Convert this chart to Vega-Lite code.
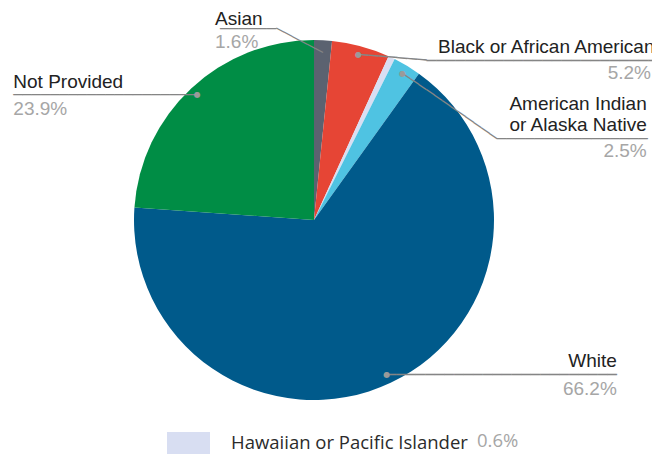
{
  "$schema": "https://vega.github.io/schema/vega-lite/v6.json",
  "width": 628,
  "height": 440,
  "autosize": {"type": "none"},
  "padding": {"left": 0, "top": 0, "right": 24, "bottom": 15},
  "background": "white",
  "config": {"view": {"stroke": null}},
  "data": {
    "values": [
      {"category": "Asian", "share": 0.016, "order": 1},
      {"category": "Black or African American", "share": 0.052, "order": 2},
      {"category": "Hawaiian or Pacific Islander", "share": 0.006, "order": 3},
      {"category": "American Indian\nor Alaska Native", "share": 0.025, "order": 4},
      {"category": "White", "share": 0.662, "order": 5},
      {"category": "Not Provided", "share": 0.239, "order": 6}
    ]
  },
  "encoding": {
    "theta": {"field": "share", "type": "quantitative", "stack": true},
    "order": {"field": "order", "type": "quantitative"},
    "detail": {"field": "category", "type": "nominal"}
  },
  "layer": [
    {
      "mark": {"type": "arc", "outerRadius": 180},
      "encoding": {
        "color": {
          "field": "category",
          "type": "nominal",
          "scale": {
            "domain": ["Asian", "Black or African American", "Hawaiian or Pacific Islander", "American Indian\nor Alaska Native", "White", "Not Provided"],
            "range": ["#5b6270", "#e64535", "#d8def2", "#4fc3e2", "#005a8b", "#008d45"]
          },
          "legend": {
            "values": ["Hawaiian or Pacific Islander"],
            "orient": "none",
            "legendX": 167,
            "legendY": 421.5,
            "title": "0.6%",
            "titleOrient": "right",
            "titleAnchor": "middle",
            "titleFont": "Open Sans",
            "titleFontSize": 18.5,
            "titleFontWeight": "normal",
            "titleColor": "#a6a6a6",
            "titlePadding": 9,
            "titleBaseline": "line-top",
            "titleLineHeight": 8,
            "symbolType": "M-1,-0.512H1V0.512H-1Z",
            "symbolSize": 1849,
            "symbolStrokeWidth": 0,
            "symbolOpacity": 1,
            "labelFont": "Open Sans",
            "labelFontSize": 18.5,
            "labelFontWeight": 500,
            "labelColor": "#2b2b2b",
            "labelOffset": 21,
            "labelLimit": 400
          }
        }
      }
    },
    {
      "mark": {"type": "text", "radius": 171, "align": "right", "baseline": "middle", "font": "DejaVu Sans Mono", "fontSize": 15.3, "color": "#858585"},
      "encoding": {"text": {"condition": {"test": "datum.category === 'Not Provided'", "value": "────────────────────"}, "value": ""}}
    },
    {
      "mark": {"type": "text", "radius": 171, "align": "left", "baseline": "alphabetic", "dx": -184, "dy": -6.7, "font": "Liberation Sans", "fontSize": 19, "color": "#222222"},
      "encoding": {"text": {"condition": {"test": "datum.category === 'Not Provided'", "field": "category", "type": "nominal"}, "value": ""}}
    },
    {
      "mark": {"type": "text", "radius": 171, "align": "left", "baseline": "alphabetic", "dx": -184, "dy": 20, "font": "Liberation Sans", "fontSize": 19, "color": "#a6a6a6"},
      "encoding": {"text": {"condition": {"test": "datum.category === 'Not Provided'", "field": "share", "type": "quantitative", "format": ".1%"}, "value": ""}}
    },
    {
      "mark": {"type": "text", "radius": 171, "align": "left", "baseline": "middle", "font": "DejaVu Sans Mono", "fontSize": 15.93, "color": "#858585"},
      "encoding": {"text": {"condition": {"test": "datum.category === 'White'", "value": "────────────────────────"}, "value": ""}}
    },
    {
      "mark": {"type": "text", "radius": 171, "align": "right", "baseline": "alphabetic", "dx": 230, "dy": -8, "font": "Liberation Sans", "fontSize": 19, "color": "#222222"},
      "encoding": {"text": {"condition": {"test": "datum.category === 'White'", "field": "category", "type": "nominal"}, "value": ""}}
    },
    {
      "mark": {"type": "text", "radius": 171, "align": "right", "baseline": "alphabetic", "dx": 230, "dy": 20.3, "font": "Liberation Sans", "fontSize": 19, "color": "#a6a6a6"},
      "encoding": {"text": {"condition": {"test": "datum.category === 'White'", "field": "share", "type": "quantitative", "format": ".1%"}, "value": ""}}
    },
    {
      "mark": {"type": "text", "radius": 171, "align": "left", "baseline": "middle", "angle": 4.8, "font": "DejaVu Sans Mono", "fontSize": 16.2, "color": "#858585"},
      "encoding": {"text": {"condition": {"test": "datum.category === 'Black or African American'", "value": "───────"}, "value": ""}}
    },
    {
      "mark": {"type": "text", "radius": 171, "align": "left", "baseline": "middle", "dx": 68, "dy": 5.7, "font": "DejaVu Sans Mono", "fontSize": 16, "color": "#858585"},
      "encoding": {"text": {"condition": {"test": "datum.category === 'Black or African American'", "value": "────────────────────────"}, "value": ""}}
    },
    {
      "mark": {"type": "text", "radius": 171, "align": "left", "baseline": "alphabetic", "dx": 79.4, "dy": -1.6, "font": "Liberation Sans", "fontSize": 19, "color": "#222222"},
      "encoding": {"text": {"condition": {"test": "datum.category === 'Black or African American'", "field": "category", "type": "nominal"}, "value": ""}}
    },
    {
      "mark": {"type": "text", "radius": 171, "align": "right", "baseline": "alphabetic", "dx": 292.4, "dy": 24.4, "font": "Liberation Sans", "fontSize": 19, "color": "#a6a6a6"},
      "encoding": {"text": {"condition": {"test": "datum.category === 'Black or African American'", "field": "share", "type": "quantitative", "format": ".1%"}, "value": ""}}
    },
    {
      "mark": {"type": "text", "radius": 171, "align": "left", "baseline": "middle", "angle": 34.7, "font": "DejaVu Sans Mono", "fontSize": 15.9, "color": "#858585"},
      "encoding": {"text": {"condition": {"test": "indexof(datum.category, 'American Indian') === 0", "value": "────────────"}, "value": ""}}
    },
    {
      "mark": {"type": "text", "radius": 171, "align": "left", "baseline": "middle", "dx": 94.3, "dy": 65.4, "font": "DejaVu Sans Mono", "fontSize": 15.68, "color": "#858585"},
      "encoding": {"text": {"condition": {"test": "indexof(datum.category, 'American Indian') === 0", "value": "────────────────"}, "value": ""}}
    },
    {
      "mark": {"type": "text", "radius": 171, "align": "right", "baseline": "alphabetic", "dx": 244.3, "dy": 36.4, "lineBreak": "\n", "lineHeight": 21, "font": "Liberation Sans", "fontSize": 19, "color": "#222222"},
      "encoding": {"text": {"condition": {"test": "indexof(datum.category, 'American Indian') === 0", "field": "category", "type": "nominal"}, "value": ""}}
    },
    {
      "mark": {"type": "text", "radius": 171, "align": "right", "baseline": "alphabetic", "dx": 244.3, "dy": 83.7, "font": "Liberation Sans", "fontSize": 19, "color": "#a6a6a6"},
      "encoding": {"text": {"condition": {"test": "indexof(datum.category, 'American Indian') === 0", "field": "share", "type": "quantitative", "format": ".1%"}, "value": ""}}
    },
    {
      "mark": {"type": "text", "radius": 167, "align": "right", "baseline": "middle", "angle": 27.5, "font": "DejaVu Sans Mono", "fontSize": 14.5, "color": "#858585"},
      "encoding": {"text": {"condition": {"test": "datum.category === 'Asian'", "value": "──────"}, "value": ""}}
    },
    {
      "mark": {"type": "text", "radius": 167, "align": "right", "baseline": "middle", "dx": -46.4, "dy": -24.2, "font": "DejaVu Sans Mono", "fontSize": 15.5, "color": "#858585"},
      "encoding": {"text": {"condition": {"test": "datum.category === 'Asian'", "value": "──────"}, "value": ""}}
    },
    {
      "mark": {"type": "text", "radius": 167, "align": "left", "baseline": "alphabetic", "dx": -107.4, "dy": -28.2, "font": "Liberation Sans", "fontSize": 19, "color": "#222222"},
      "encoding": {"text": {"condition": {"test": "datum.category === 'Asian'", "field": "category", "type": "nominal"}, "value": ""}}
    },
    {
      "mark": {"type": "text", "radius": 167, "align": "left", "baseline": "alphabetic", "dx": -107.4, "dy": -5.5, "font": "Liberation Sans", "fontSize": 19, "color": "#a6a6a6"},
      "encoding": {"text": {"condition": {"test": "datum.category === 'Asian'", "field": "share", "type": "quantitative", "format": ".1%"}, "value": ""}}
    },
    {
      "mark": {"type": "text", "radius": 171, "align": "center", "baseline": "middle", "font": "DejaVu Sans", "fontSize": 8, "color": "#9a9a9a"},
      "encoding": {"text": {"condition": {"test": "datum.category !== 'Asian' && datum.category !== 'Hawaiian or Pacific Islander'", "value": "●"}, "value": ""}}
    }
  ]
}
